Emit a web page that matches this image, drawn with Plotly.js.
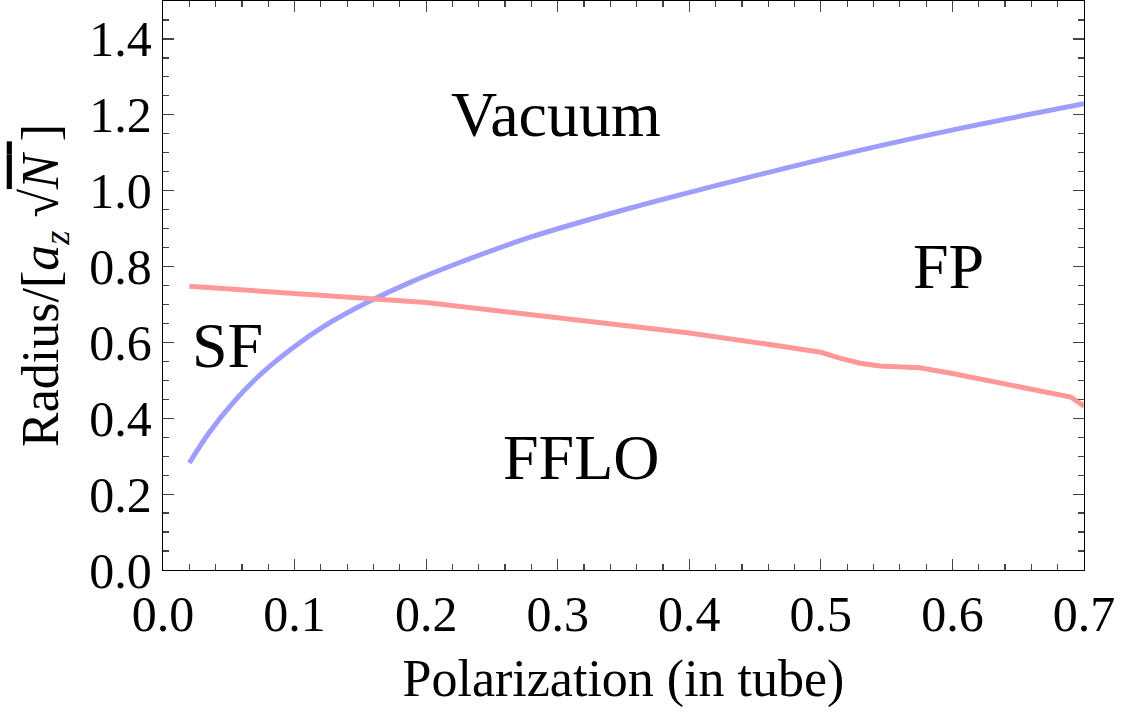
<!DOCTYPE html>
<html>
<head>
<meta charset="utf-8">
<script src="https://cdn.plot.ly/plotly-3.0.1.min.js"></script>
<style>html,body{margin:0;padding:0;background:#fff;}#chart{width:1127px;height:712px;}</style>
</head>
<body>
<div id="chart"></div>
<script>
// Boundary between Vacuum (above) and the paired / polarized phases (blue)
const blueX = [0.02,0.035,0.053,0.073,0.098,0.124,0.155,0.187,0.225,0.278,0.354,0.43,0.528,0.604,0.70];
const blueY = [0.282,0.362,0.44,0.512,0.584,0.646,0.705,0.757,0.81,0.876,0.953,1.022,1.105,1.163,1.229];
// Boundary between SF/FP (above) and FFLO (below) (red)
const redX = [0.02,0.10,0.16,0.20,0.30,0.40,0.47,0.50,0.515,0.53,0.545,0.56,0.575,0.60,0.65,0.69,0.70];
const redY = [0.748,0.73,0.716,0.705,0.665,0.625,0.59,0.574,0.558,0.545,0.538,0.535,0.533,0.518,0.485,0.456,0.432];
// Region labels
const regionNames = ["Vacuum","SF","FFLO","FP"];
const regionX = [0.299,0.049,0.318,0.597];
const regionY = [1.2,0.592,0.297,0.8];
const xTicks = [0,0.1,0.2,0.3,0.4,0.5,0.6,0.7];
const xTickText = ["0.0","0.1","0.2","0.3","0.4","0.5","0.6","0.7"];
const yTicks = [0,0.2,0.4,0.6,0.8,1.0,1.2,1.4];
const yTickText = ["0.0","0.2","0.4","0.6","0.8","1.0","1.2","1.4"];

const FONT = "Liberation Serif, Times New Roman, serif";

const traces = [
  {x: blueX, y: blueY, mode: 'lines', line: {color: 'rgb(158,158,255)', width: 5, shape: 'spline', smoothing: 1}, hoverinfo: 'none'},
  {x: redX, y: redY, mode: 'lines', line: {color: 'rgb(255,153,153)', width: 5}, hoverinfo: 'none'}
];

const axisCommon = {
  showgrid: false, zeroline: false, showline: true, linecolor: '#000', linewidth: 1.2,
  mirror: 'ticks', ticks: 'inside', ticklen: 11, tickwidth: 1.2, tickcolor: '#444',
  tickfont: {family: FONT, size: 50, color: '#000'}
};

const layout = {
  width: 1127, height: 712,
  margin: {l: 163, r: 43, t: 1, b: 142},
  paper_bgcolor: '#fff', plot_bgcolor: '#fff',
  showlegend: false,
  font: {family: FONT, color: '#000'},
  xaxis: Object.assign({}, axisCommon, {
    range: [0, 0.7], tickvals: xTicks, ticktext: xTickText,
    minor: {dtick: 0.02, ticklen: 6, tickwidth: 1.2, tickcolor: '#444', ticks: 'inside'},
    title: {text: 'Polarization (in tube)', font: {family: FONT, size: 52, color: '#000'}, standoff: 18}
  }),
  yaxis: Object.assign({}, axisCommon, {
    range: [0, 1.5], tickvals: yTicks, ticktext: yTickText,
    minor: {dtick: 0.05, ticklen: 6, tickwidth: 1.2, tickcolor: '#444', ticks: 'inside'},
    title: {text: 'Radius/[<i>a</i><sub><i>z</i></sub> √<span style="text-decoration:overline"><i>N</i> </span>]', font: {family: FONT, size: 52, color: '#000'}, standoff: 14}
  }),
  annotations: regionNames.map((t, i) => ({
    x: regionX[i], y: regionY[i], xref: 'x', yref: 'y', text: t, showarrow: false,
    font: {family: FONT, size: 64, color: '#000'}, xanchor: 'center', yanchor: 'middle'
  }))
};

Plotly.newPlot('chart', traces, layout, {staticPlot: true, displayModeBar: false});
</script>
</body>
</html>
